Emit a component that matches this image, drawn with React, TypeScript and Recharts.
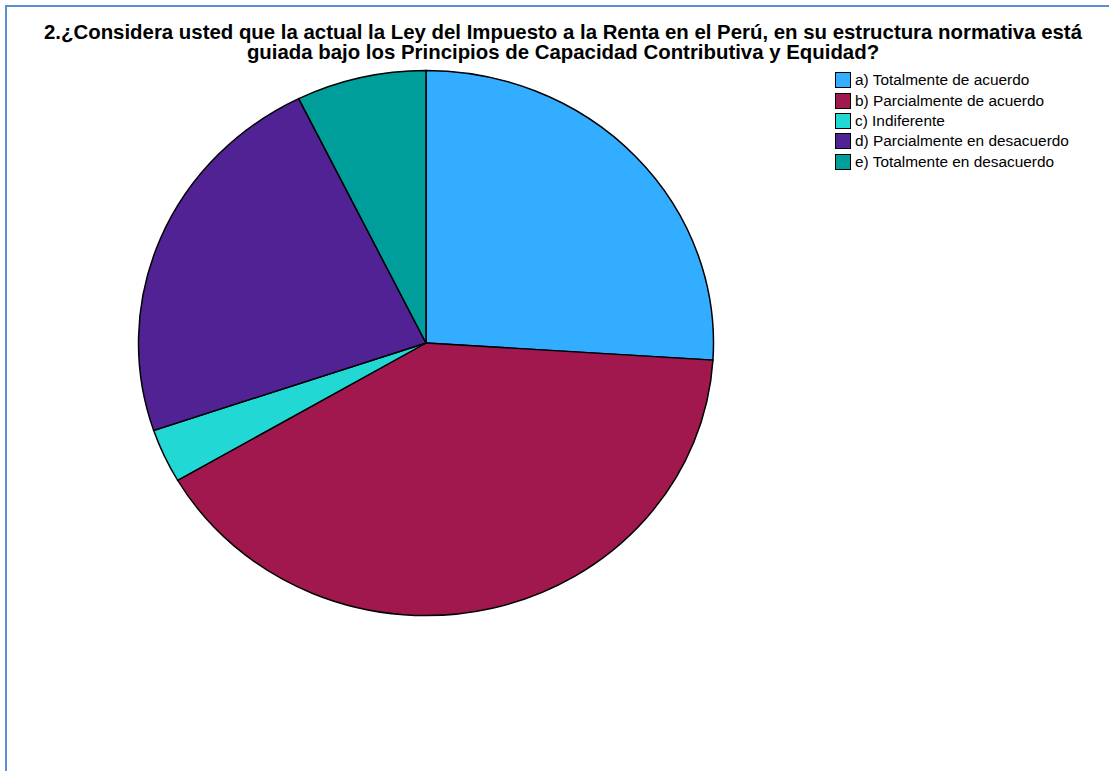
import { Cell, Pie, PieChart } from "recharts";

const categories = [
  "a) Totalmente de acuerdo",
  "b) Parcialmente de acuerdo",
  "c) Indiferente",
  "d) Parcialmente en desacuerdo",
  "e) Totalmente en desacuerdo",
];
const values = [26, 40.6, 3.2, 22.9, 7.3];
const colors = ["#33adff", "#a0184e", "#22d8d4", "#512293", "#009e9a"];
const titleLines = [
  "2.¿Considera usted que la actual la Ley del Impuesto a la Renta en el Perú, en su estructura normativa está",
  "guiada bajo los Principios de Capacidad Contributiva y Equidad?",
];

const data = categories.map((name, i) => ({ name, value: values[i] }));
const font = "'Liberation Sans', Arial, sans-serif";

export default function App() {
  return (
    <div style={{ position: "absolute", left: 0, top: 0, width: 1109, height: 771, overflow: "hidden", background: "#fff", fontFamily: font }}>
      <div style={{ position: "absolute", left: 5, top: 5, width: 1200, height: 900, border: "2px solid #5b8fd0", boxSizing: "border-box" }} />
      <div style={{ position: "absolute", left: 0, top: 21.5, width: 1126, textAlign: "center", fontWeight: "bold", fontSize: 20.4, lineHeight: "20.6px", color: "#000", whiteSpace: "nowrap" }}>
        {titleLines.map((t) => <div key={t}>{t}</div>)}
      </div>
      {/* pie is a bit wider than tall in the original, so squash it vertically */}
      <div style={{ position: "absolute", left: 126, top: 42.5, width: 600, height: 600, transform: "scaleY(0.948)", transformOrigin: "50% 50%" }}>
        <PieChart width={600} height={600} margin={{ top: 0, right: 0, bottom: 0, left: 0 }}>
          <Pie data={data} dataKey="value" nameKey="name" cx={300} cy={300} outerRadius={287.5} startAngle={90} endAngle={-270} stroke="#000" strokeWidth={1.5} isAnimationActive={false}>
            {data.map((d, i) => <Cell key={d.name} fill={colors[i]} />)}
          </Pie>
        </PieChart>
      </div>
      <div style={{ position: "absolute", left: 835, top: 70 }}>
        {categories.map((c, i) => (
          <div key={c} style={{ display: "flex", alignItems: "center", height: 20.4, fontSize: 15.4, color: "#000", whiteSpace: "nowrap" }}>
            <span style={{ display: "inline-block", width: 14, height: 14, background: colors[i], border: "1px solid #000", marginRight: 4, flexShrink: 0 }} />
            {c}
          </div>
        ))}
      </div>
    </div>
  );
}
